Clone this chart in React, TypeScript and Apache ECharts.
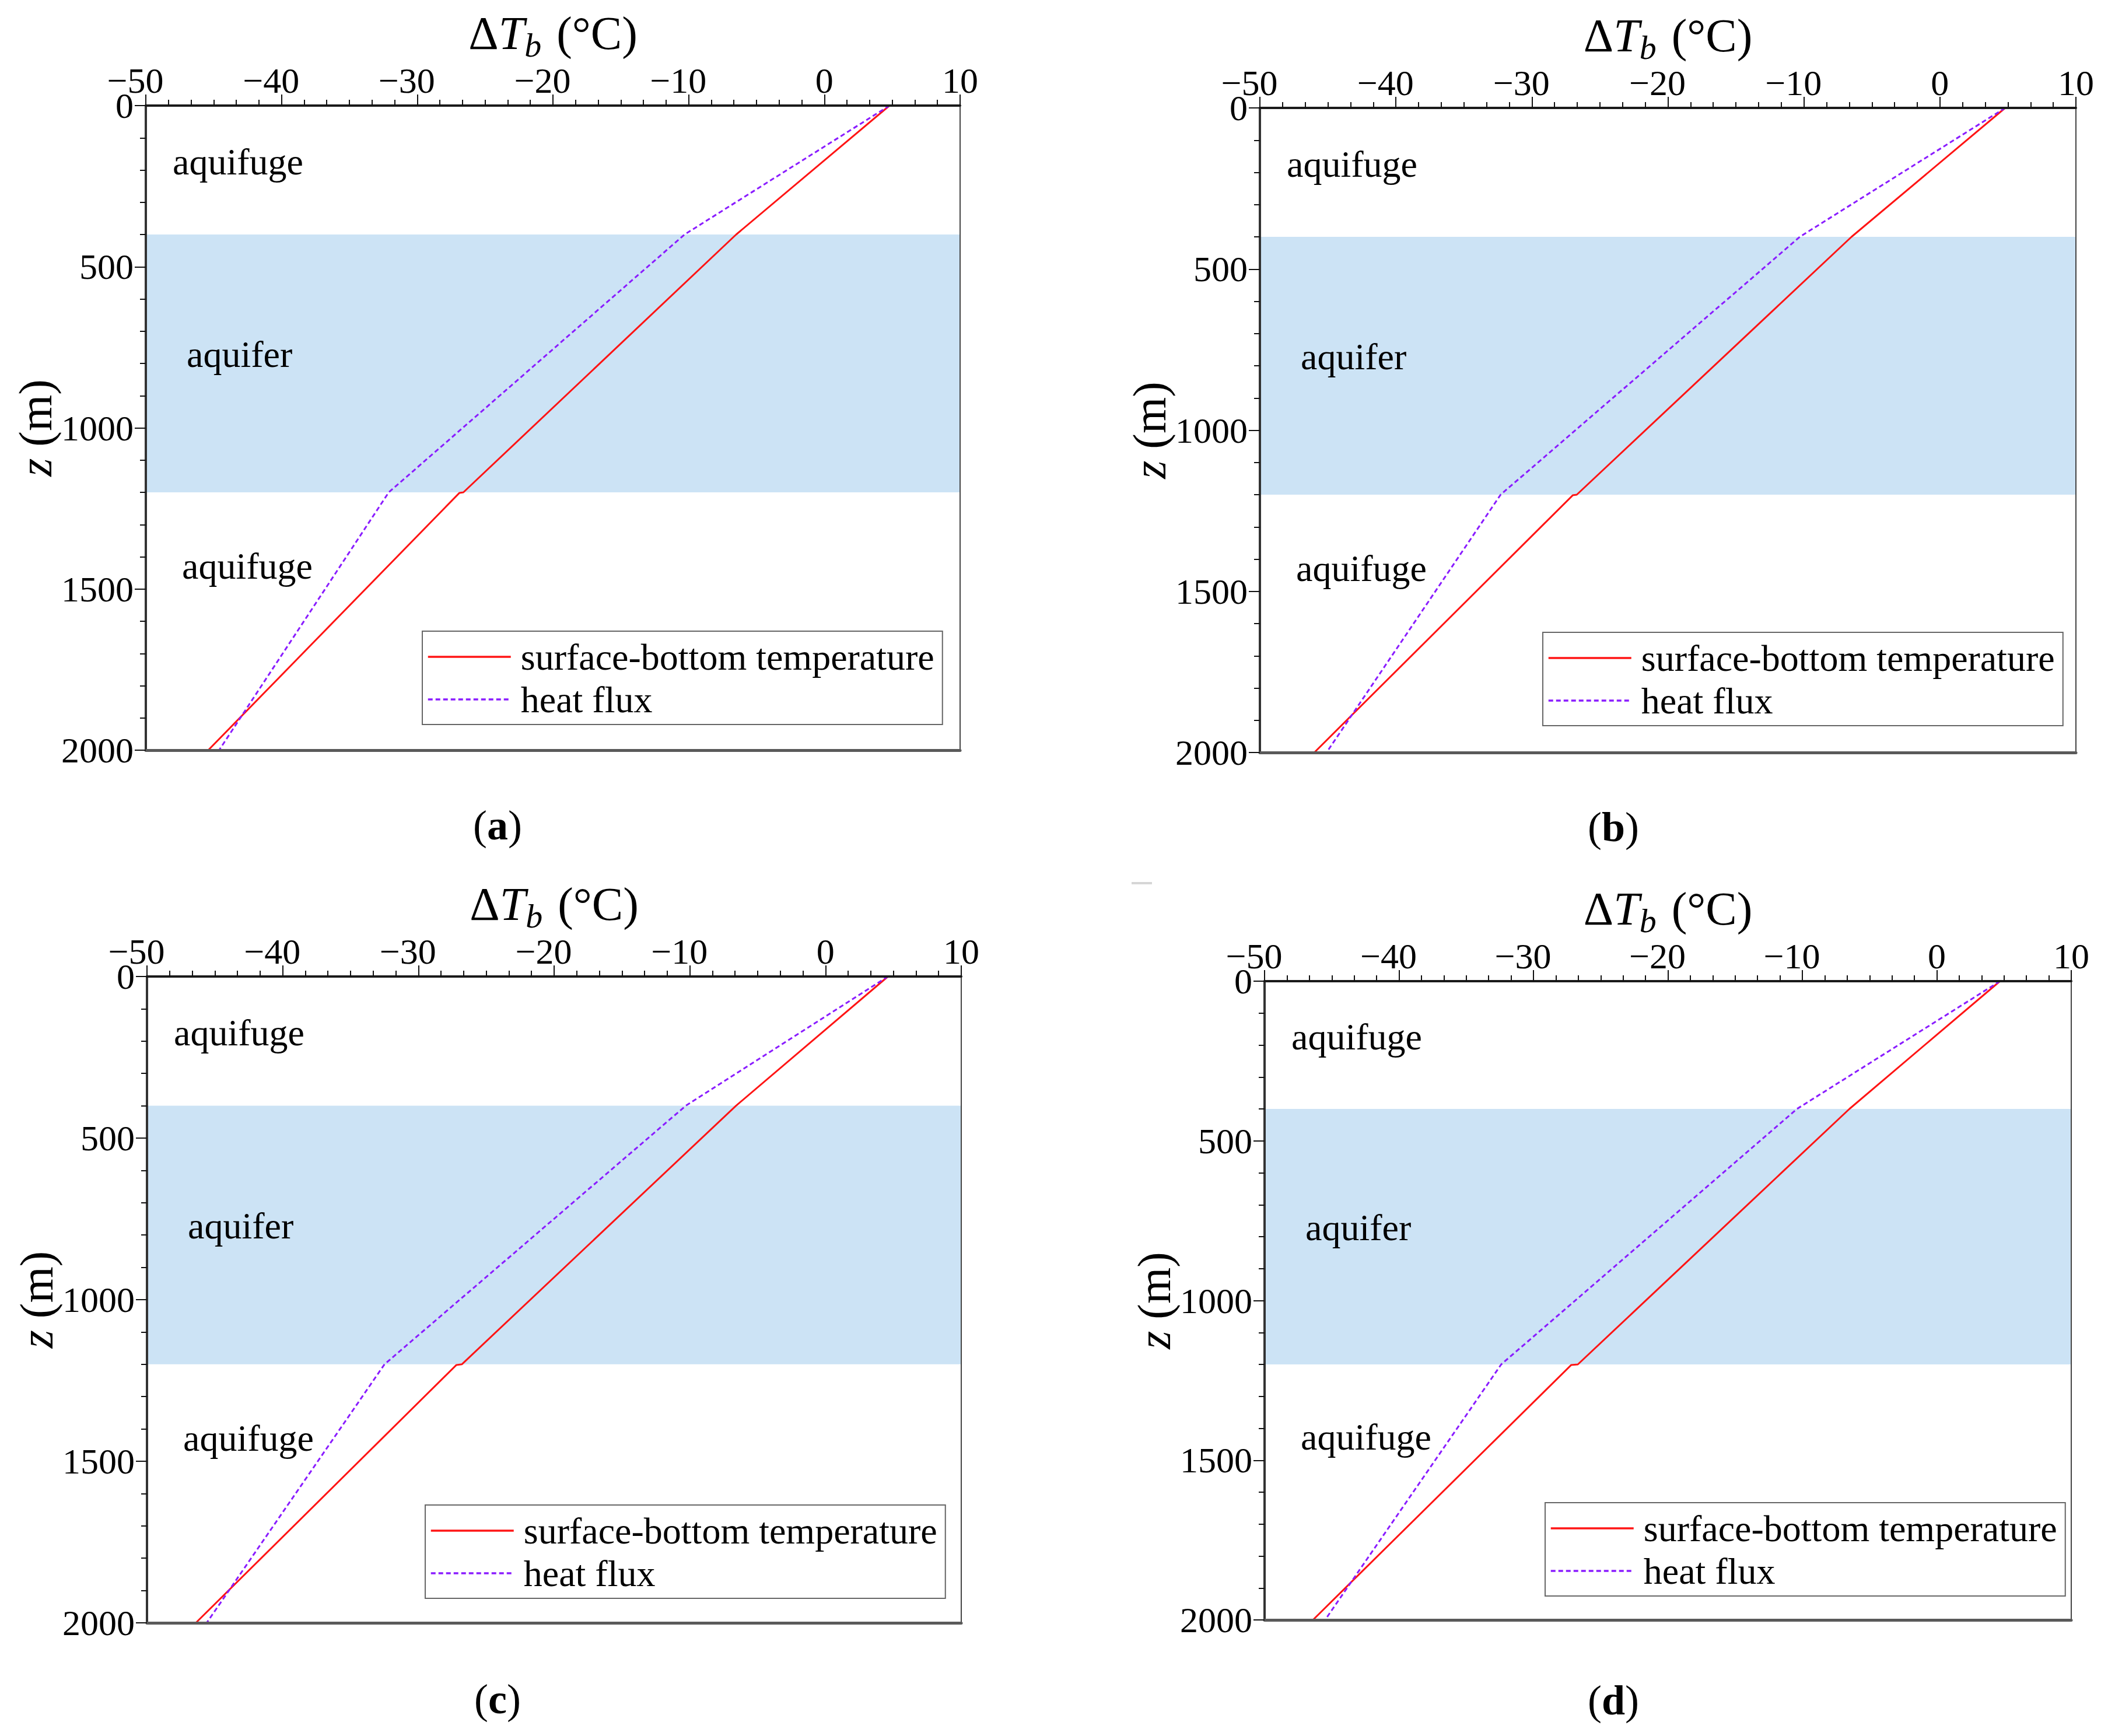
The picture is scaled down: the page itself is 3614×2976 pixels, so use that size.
import React, { useEffect, useRef } from 'react';
import * as echarts from 'echarts';

const W = 3614;
const H = 2976;
const FONT = 'Liberation Serif';

// axis ranges
const X_MIN = -50;
const X_MAX = 10;
const X_STEP = 10;
const Z_MIN = 0;
const Z_MAX = 2000;
const Z_STEP = 500;

// layer boundaries (m)
const AQUIFER_TOP = 400;
const AQUIFER_BOTTOM = 1200;
const LAYER_NAMES = ['aquifuge', 'aquifer', 'aquifuge'];

const SERIES_NAMES = ['surface-bottom temperature', 'heat flux'];
const PANEL_LABELS = ['a', 'b', 'c', 'd'];

// [ΔTb (°C), z (m)]
const TEMP_A = [[4.8, 0], [-6.5, 400], [-26.6, 1200], [-26.9, 1202], [-45.4, 2000]];
const FLUX_A = [[4.8, 0], [-10.3, 400], [-32.1, 1200], [-44.6, 2000]];
const TEMP_B = [[4.8, 0], [-6.5, 400], [-26.7, 1200], [-27.0, 1202], [-46.0, 2000]];
const FLUX_B = [[4.8, 0], [-10.3, 400], [-32.3, 1200], [-45.1, 2000]];
const TEMP_C = [[4.6, 0], [-6.6, 400], [-26.8, 1200], [-27.2, 1202], [-46.4, 2000]];
const FLUX_C = [[4.6, 0], [-10.3, 400], [-32.5, 1200], [-45.6, 2000]];
const TEMP_D = [[4.7, 0], [-6.5, 400], [-26.7, 1200], [-27.2, 1202], [-46.4, 2000]];
const FLUX_D = [[4.7, 0], [-10.4, 400], [-32.4, 1200], [-45.5, 2000]];

const TEMPS = [TEMP_A, TEMP_B, TEMP_C, TEMP_D];
const FLUXES = [FLUX_A, FLUX_B, FLUX_C, FLUX_D];

// layout (pixels)
const GRIDS = [
  { left: 250, top: 181, width: 1396, height: 1105 },
  { left: 2160, top: 185, width: 1399, height: 1105 },
  { left: 252, top: 1674, width: 1396, height: 1108 },
  { left: 2168, top: 1682, width: 1383, height: 1095 },
];
const LEGEND_POS = [
  [724, 1082],
  [2645, 1084],
  [729, 2580],
  [2649, 2576],
];
const CAPTION_POS = [
  [853, 1415],
  [2766, 1418],
  [853, 2913],
  [2766, 2915],
];

// negative labels: digits centred on the tick, minus sign hanging to the left
const fmtX = (v: number) => (v < 0 ? '{n|\u2212' + Math.abs(v) + '}' : '{p|' + v + '}');
const fmtY = (v: number) => String(v);

export default function App() {
  const ref = useRef<HTMLDivElement>(null);

  useEffect(() => {
    if (!ref.current) return;
    const chart = echarts.init(ref.current, undefined, { renderer: 'svg', width: W, height: H });

    const xAxes: any[] = [];
    const yAxes: any[] = [];
    const series: any[] = [];

    GRIDS.forEach((g, i) => {
      xAxes.push({
        type: 'value',
        gridIndex: i,
        position: 'top',
        min: X_MIN,
        max: X_MAX,
        interval: X_STEP,
        z: 10,
        name: '\u0394{i|T}{sub|b} (°C)',
        nameLocation: 'middle',
        nameGap: 66,
        nameTextStyle: {
          fontFamily: FONT,
          fontSize: 80,
          color: '#000',
          lineHeight: 90,
          rich: {
            i: { fontFamily: FONT, fontSize: 80, fontStyle: 'italic', color: '#000', lineHeight: 90 },
            sub: { fontFamily: FONT, fontSize: 58, fontStyle: 'italic', color: '#000', lineHeight: 60, padding: [40, 6, 0, 0] },
          },
        },
        axisLine: { show: true, lineStyle: { color: '#1a1a1a', width: 4 } },
        axisTick: { show: true, inside: false, length: 19, lineStyle: { color: '#111', width: 2 } },
        minorTick: { show: true, splitNumber: 6, length: 10, lineStyle: { color: '#111', width: 2 } },
        splitLine: { show: false },
        axisLabel: {
          margin: 23,
          lineHeight: 40,
          fontFamily: FONT,
          fontSize: 62,
          color: '#000',
          formatter: fmtX,
          rich: {
            n: { fontFamily: FONT, fontSize: 62, color: '#000', lineHeight: 40, padding: [0, 36, 0, 0] },
            p: { fontFamily: FONT, fontSize: 62, color: '#000', lineHeight: 40 },
          },
        },
      });
      xAxes.push({
        type: 'value',
        gridIndex: i,
        position: 'bottom',
        min: X_MIN,
        max: X_MAX,
        interval: X_STEP,
        z: 10,
        axisLine: { show: true, onZero: false, lineStyle: { color: '#5a5a5a', width: 5 } },
        axisTick: { show: false },
        axisLabel: { show: false },
        splitLine: { show: false },
      });
      yAxes.push({
        type: 'value',
        gridIndex: i,
        position: 'left',
        inverse: true,
        min: Z_MIN,
        max: Z_MAX,
        interval: Z_STEP,
        z: 10,
        name: '{i|z} (m)',
        nameLocation: 'middle',
        nameGap: 128,
        nameTextStyle: {
          fontFamily: FONT,
          fontSize: 80,
          color: '#000',
          rich: { i: { fontFamily: FONT, fontSize: 80, fontStyle: 'italic', color: '#000' } },
        },
        axisLine: { show: true, onZero: false, lineStyle: { color: '#333', width: 4 } },
        axisTick: { show: true, inside: false, length: 19, lineStyle: { color: '#111', width: 2 } },
        minorTick: { show: true, splitNumber: 5, length: 10, lineStyle: { color: '#111', width: 2 } },
        splitLine: { show: false },
        axisLabel: { margin: 21, lineHeight: 36, fontFamily: FONT, fontSize: 62, color: '#000', formatter: fmtY },
      });
      yAxes.push({
        type: 'value',
        gridIndex: i,
        position: 'right',
        inverse: true,
        min: Z_MIN,
        max: Z_MAX,
        interval: Z_STEP,
        z: 10,
        axisLine: { show: true, onZero: false, lineStyle: { color: '#444', width: 2 } },
        axisTick: { show: false },
        axisLabel: { show: false },
        splitLine: { show: false },
      });

      const layerLabel = (dx: number, dy: number) => ({
        show: true,
        position: 'insideLeft',
        distance: 5,
        offset: [dx, dy],
        fontFamily: FONT,
        fontSize: 64,
        color: '#000',
        formatter: '{b}',
      });

      series.push({
        name: SERIES_NAMES[0],
        type: 'line',
        xAxisIndex: 2 * i,
        yAxisIndex: 2 * i,
        data: TEMPS[i],
        symbol: 'none',
        showSymbol: false,
        lineStyle: { color: '#ff1414', width: 3 },
        itemStyle: { color: '#ff1414' },
        z: 3,
        markArea: {
          silent: true,
          data: [
            [
              { name: LAYER_NAMES[0], xAxis: X_MIN, yAxis: Z_MIN, itemStyle: { color: 'rgba(255,255,255,0)' }, label: layerLabel(41, -14) },
              { xAxis: X_MAX, yAxis: AQUIFER_TOP },
            ],
            [
              { name: LAYER_NAMES[1], xAxis: X_MIN, yAxis: AQUIFER_TOP, itemStyle: { color: '#cce3f5' }, label: layerLabel(65, -16) },
              { xAxis: X_MAX, yAxis: AQUIFER_BOTTOM },
            ],
            [
              { name: LAYER_NAMES[2], xAxis: X_MIN, yAxis: AQUIFER_BOTTOM, itemStyle: { color: 'rgba(255,255,255,0)' }, label: layerLabel(57, -95) },
              { xAxis: X_MAX, yAxis: Z_MAX },
            ],
          ],
        },
      });
      series.push({
        name: SERIES_NAMES[1],
        type: 'line',
        xAxisIndex: 2 * i,
        yAxisIndex: 2 * i,
        data: FLUXES[i],
        symbol: 'none',
        showSymbol: false,
        lineStyle: { color: '#8a1cff', width: 3, type: [8, 5] },
        itemStyle: { color: '#8a1cff' },
        z: 4,
      });
    });

    const legends = GRIDS.map((g, i) => ({
      data: SERIES_NAMES,
      left: LEGEND_POS[i][0],
      top: LEGEND_POS[i][1],
      orient: 'vertical',
      align: 'left',
      itemWidth: 142,
      itemHeight: 20,
      itemGap: 9,
      padding: [12, 14, 11, 8],
      borderColor: '#666',
      borderWidth: 2,
      backgroundColor: '#fff',
      selectedMode: false,
      z: 20,
      itemStyle: { color: 'rgba(0,0,0,0)', borderWidth: 0, opacity: 0 },
      lineStyle: { width: 3.5 },
      textStyle: { fontFamily: FONT, fontSize: 64, color: '#000', lineHeight: 64, padding: [0, 0, 0, 12] },
    }));

    const graphics: any[] = PANEL_LABELS.map((lab, i) => ({
      type: 'text',
      x: CAPTION_POS[i][0],
      y: CAPTION_POS[i][1],
      style: {
        text: '({b|' + lab + '})',
        fontFamily: FONT,
        fontSize: 72,
        fill: '#000',
        align: 'center',
        verticalAlign: 'middle',
        rich: { b: { fontFamily: FONT, fontSize: 72, fontWeight: 'bold', fill: '#000' } },
      },
    }));
    graphics.push({
      type: 'rect',
      shape: { x: 1940, y: 1512, width: 35, height: 4 },
      style: { fill: '#d6d6d6' },
    });

    chart.setOption({
      animation: false,
      backgroundColor: '#ffffff',
      grid: GRIDS.map((g) => ({ ...g, containLabel: false })),
      xAxis: xAxes,
      yAxis: yAxes,
      legend: legends,
      series,
      graphic: graphics,
    });

    return () => chart.dispose();
  }, []);

  return (
    <div
      ref={ref}
      style={{ position: 'absolute', left: 0, top: 0, width: W, height: H, background: '#fff' }}
    />
  );
}
